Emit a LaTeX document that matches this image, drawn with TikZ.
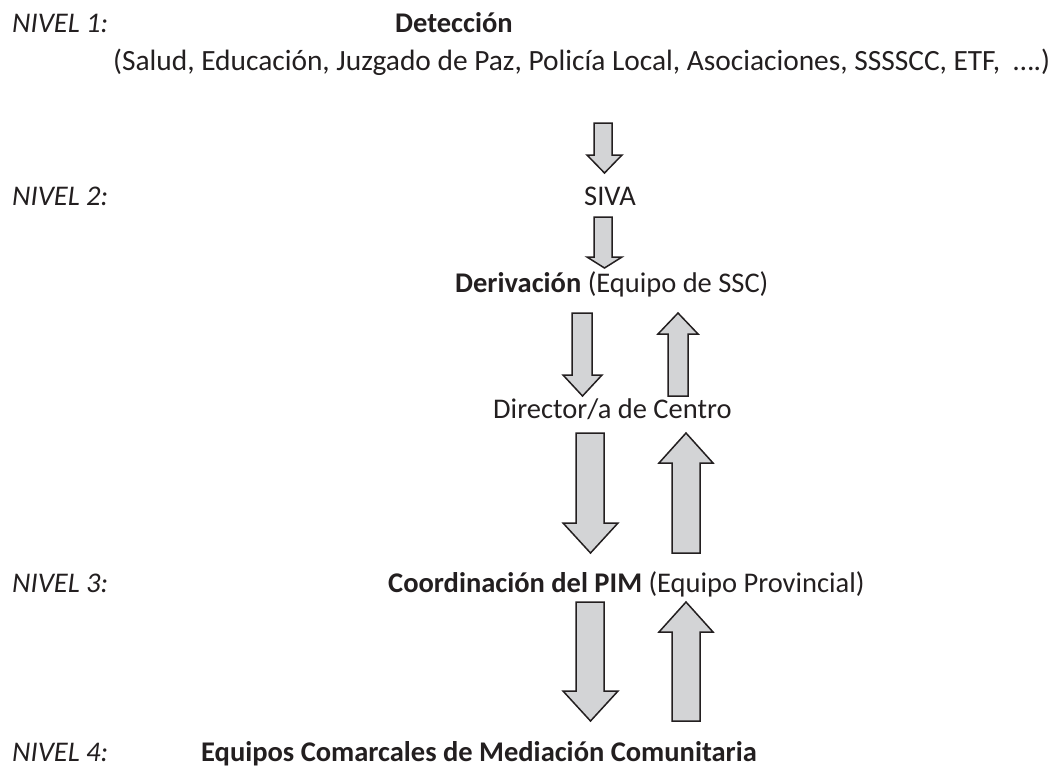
\documentclass[tikz,border=0pt]{standalone}
\usepackage{fontspec}
\setmainfont{Carlito}
\definecolor{ink}{RGB}{35,31,32}
\definecolor{arrowfill}{RGB}{211,212,214}
\newcommand{\dnblk}[7]{%
  \draw[blockarrow] (#1,-#5) -- (#2,-#5) -- (#2,-#6) -- (#4,-#6) -- ({(#3+#4)/2},-#7) -- (#3,-#6) -- (#1,-#6) -- cycle;}
\newcommand{\upblk}[7]{%
  \draw[blockarrow] (#1,-#7) -- (#2,-#7) -- (#2,-#6) -- (#4,-#6) -- ({(#3+#4)/2},-#5) -- (#3,-#6) -- (#1,-#6) -- cycle;}
\begin{document}
\begin{tikzpicture}[x=1pt,y=1pt,
  txt/.style={anchor=base west, inner sep=0pt, text=ink, font=\fontsize{28.5}{34}\selectfont},
  lvl/.style={txt, font=\fontsize{28.5}{34}\selectfont\itshape},
  blockarrow/.style={draw=ink, fill=arrowfill, line width=1.5pt, line join=miter}]
\useasboundingbox (0,0) rectangle (1056,-769);
% level labels
\node[lvl] (n1) at (12,-32) {NIVEL 1:};
\node[lvl] (n2) at (12,-205) {NIVEL 2:};
\node[lvl] (n3) at (12,-592) {NIVEL 3:};
\node[lvl] (n4) at (12,-761) {NIVEL 4:};
% texts
\node[txt] (det) at (395,-32) {\textbf{Detección}};
\node[txt, font=\fontsize{29.4}{35}\selectfont] (agents) at (113,-70) {(Salud, Educación, Juzgado de Paz, Policía Local, Asociaciones, SSSSCC, ETF,\ \ ….)};
\node[txt] (siva) at (584,-205) {SIVA};
\node[txt] (deriv) at (455,-292) {\textbf{Derivación} (Equipo de SSC)};
\node[txt] (dir) at (493,-418) {Director/a de Centro};
\node[txt] (coord) at (388,-592) {\textbf{Coordinación del PIM} (Equipo Provincial)};
\node[txt] (ecm) at (201,-761) {\textbf{Equipos Comarcales de Mediación Comunitaria}};
% block arrows
\dnblk{594}{612}{587}{622}{123}{155}{173}
\dnblk{594}{612}{587}{622}{217}{257}{268}
\dnblk{572}{592}{563}{602}{313}{375}{396}
\upblk{668}{688}{658}{698}{313}{334}{396}
\dnblk{576}{604}{563}{618}{433}{523}{553}
\upblk{672}{700}{659}{713}{433}{463}{553}
\dnblk{576}{604}{563}{618}{602}{691}{721}
\upblk{672}{700}{659}{713}{602}{632}{721}
\end{tikzpicture}
\end{document}
